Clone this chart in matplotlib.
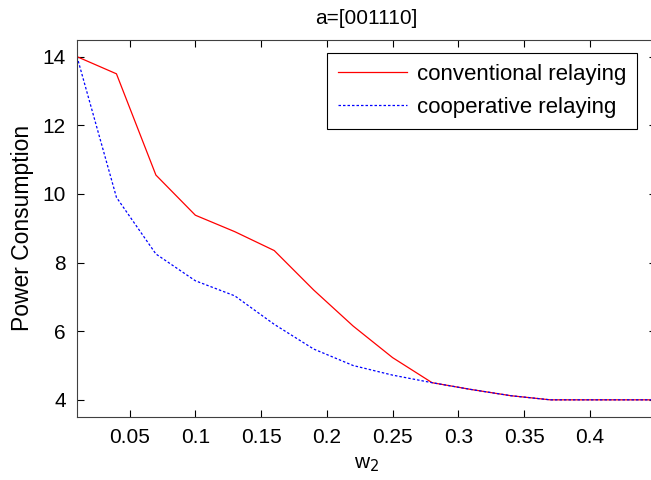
import matplotlib
matplotlib.use("Agg")
import matplotlib.pyplot as plt

plt.rcParams['font.family'] = ['Liberation Sans', 'DejaVu Sans']

# w2 samples
w2 = [0.01, 0.04, 0.07, 0.10, 0.13, 0.16, 0.19, 0.22, 0.25, 0.28, 0.31, 0.34, 0.37, 0.40, 0.43, 0.46]
conventional = [14.0, 13.5, 10.55, 9.38, 8.9, 8.35, 7.2, 6.15, 5.23, 4.5, 4.3, 4.12, 4.0, 4.0, 4.0, 4.0]
cooperative = [14.0, 9.9, 8.25, 7.47, 7.03, 6.2, 5.48, 5.0, 4.72, 4.5, 4.3, 4.12, 4.0, 4.0, 4.0, 4.0]

xtick_vals = [0.05, 0.1, 0.15, 0.2, 0.25, 0.3, 0.35, 0.4]
xtick_labels = ['0.05', '0.1', '0.15', '0.2', '0.25', '0.3', '0.35', '0.4']
ytick_vals = [4, 6, 8, 10, 12, 14]

fig = plt.figure(figsize=(6.51, 4.8), dpi=100)
ax = fig.add_axes([77/651, 1-417/480, (655.6-77)/651, (417-39.5)/480])

ax.plot(w2, conventional, color='red', lw=0.9, label='conventional relaying')
ax.plot(w2, cooperative, color='blue', lw=0.9, ls=(0, (2, 1.6)), label='cooperative relaying')

ax.set_xlim(0.01, 0.45)
ax.set_ylim(3.5, 14.5)
ax.set_xticks(xtick_vals)
ax.set_xticklabels(xtick_labels)
ax.set_yticks(ytick_vals)
ax.tick_params(direction='in', top=True, right=True, labelsize=15, length=5, width=0.8, pad=8)
for s in ax.spines.values():
    s.set_linewidth(0.8)
    s.set_color('#404040')

ax.set_title('a=[001110]', fontsize=15, pad=11)
ax.set_xlabel('w$_2$', fontsize=15, labelpad=6)
ax.set_ylabel('Power Consumption', fontsize=16.5, labelpad=6)

leg = ax.legend(loc='upper left', bbox_to_anchor=(327/651, 1-52.7/480),
                bbox_transform=fig.transFigure, fontsize=16, fancybox=False,
                edgecolor='black', framealpha=1, borderaxespad=0,
                handlelength=3.1, handletextpad=0.45, labelspacing=0.55, borderpad=0.5)
leg.get_frame().set_linewidth(0.8)

fig.savefig('out.png', dpi=100)
